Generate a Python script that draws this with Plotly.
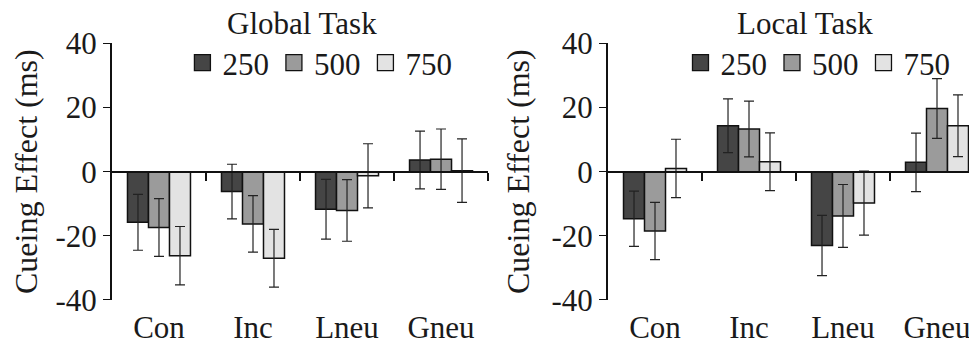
import plotly.graph_objects as go

categories = ["Con", "Inc", "Lneu", "Gneu"]
soas = ["250", "500", "750"]

global_250 = [-15.8, -6.2, -11.7, 3.6]
global_500 = [-17.4, -16.3, -12.1, 3.9]
global_750 = [-26.2, -27.0, -1.3, 0.3]
global_err_250 = [8.7, 8.5, 9.3, 9.0]
global_err_500 = [9.0, 8.8, 9.6, 9.4]
global_err_750 = [9.1, 9.0, 10.0, 9.9]

local_250 = [-14.7, 14.3, -23.0, 2.9]
local_500 = [-18.5, 13.3, -13.8, 19.7]
local_750 = [1.0, 3.1, -9.8, 14.3]
local_err_250 = [8.6, 8.4, 9.4, 9.1]
local_err_500 = [8.9, 8.7, 9.8, 9.3]
local_err_750 = [9.1, 9.0, 10.0, 9.6]

colors = ["#454545", "#9b9b9b", "#e3e3e3"]
FONT = "Liberation Serif"
TXT = "#1a1a1a"
FS = 31

fig = go.Figure()

panels = [
    ("x", "y", "legend", [global_250, global_500, global_750],
     [global_err_250, global_err_500, global_err_750]),
    ("x3", "y3", "legend2", [local_250, local_500, local_750],
     [local_err_250, local_err_500, local_err_750]),
]

for xa, ya, leg, vals, errs in panels:
    for i, s in enumerate(soas):
        fig.add_trace(go.Bar(
            x=categories, y=vals[i], name=s, xaxis=xa, yaxis=ya,
            marker=dict(color=colors[i], line=dict(color="#111111", width=1.5)),
            error_y=dict(type="data", array=errs[i], visible=True,
                         color="#222222", thickness=1.2, width=5),
            showlegend=False,
        ))
        # legend entries with larger square symbols
        fig.add_trace(go.Scatter(
            x=[None], y=[None], mode="markers", name=s, xaxis=xa, yaxis=ya,
            marker=dict(symbol="square", size=16, color=colors[i],
                        line=dict(color="#111111", width=1.3)),
            legend=leg, showlegend=True,
        ))

# dummy traces for the zero-line axes
fig.add_trace(go.Scatter(x=[None], y=[None], xaxis="x2", yaxis="y", showlegend=False))
fig.add_trace(go.Scatter(x=[None], y=[None], xaxis="x4", yaxis="y3", showlegend=False))

# page body has an 8px margin: figure is 969x335 so that it fills the 977x343 window
ydom = [0.1284, 0.8946]
ymid = (ydom[0] + ydom[1]) / 2
left_dom = [0.1073, 0.4954]
right_dom = [0.6192, 1.0]
right_range = [-0.5, 3.4255]

yaxis_common = dict(
    domain=ydom, range=[-40, 40], tickvals=[-40, -20, 0, 20, 40],
    ticktext=["-40", "-20", "0", "20", "40"],
    showline=True, linecolor="#111111", linewidth=2,
    ticks="outside", ticklen=7, tickwidth=1.2, tickcolor="#111111",
    showgrid=False, zeroline=False, automargin=False,
    tickfont=dict(family=FONT, size=FS, color=TXT),
    title=dict(text="Cueing Effect (ms)", font=dict(family=FONT, size=32, color=TXT), standoff=12),
)
xaxis_common = dict(
    type="category", showline=False, showgrid=False, zeroline=False, ticks="",
    automargin=False, ticklabelstandoff=6,
    tickfont=dict(family=FONT, size=FS, color=TXT),
)
zero_common = dict(
    range=[-0.5, 3.5], showline=True, linecolor="#111111", linewidth=2,
    ticks="outside", ticklen=8, tickwidth=1.5, tickcolor="#111111",
    tickvals=[0.5, 1.5, 2.5, 3.5], showticklabels=False, showgrid=False,
    zeroline=False, anchor="free", position=ymid, automargin=False,
)

fig.update_layout(
    width=969, height=335,
    margin=dict(l=0, r=0, t=0, b=0, autoexpand=False),
    paper_bgcolor="white", plot_bgcolor="rgba(0,0,0,0)",
    barmode="group", bargap=0.33, bargroupgap=0,
    xaxis=dict(domain=left_dom, range=[-0.5, 3.5], anchor="y", **xaxis_common),
    yaxis=dict(anchor="x", **yaxis_common),
    xaxis2=dict(domain=left_dom, overlaying="x", **zero_common),
    xaxis3=dict(domain=right_dom, range=right_range, anchor="y3", **xaxis_common),
    yaxis3=dict(anchor="x3", **yaxis_common),
    xaxis4=dict(domain=right_dom, overlaying="x3", **{**zero_common, "range": right_range}),
    legend=dict(orientation="h", x=0.180, y=0.836, xanchor="left", yanchor="middle",
                font=dict(family=FONT, size=FS, color=TXT), bgcolor="rgba(0,0,0,0)",
                itemwidth=30, tracegroupgap=0),
    legend2=dict(orientation="h", x=0.694, y=0.836, xanchor="left", yanchor="middle",
                 font=dict(family=FONT, size=FS, color=TXT), bgcolor="rgba(0,0,0,0)",
                 itemwidth=30, tracegroupgap=0),
    annotations=[
        dict(text="Global Task", x=0.3034, y=0.9552, xref="paper", yref="paper",
             xanchor="center", yanchor="middle",
             showarrow=False, font=dict(family=FONT, size=FS, color=TXT)),
        dict(text="Local Task", x=0.8225, y=0.9552, xref="paper", yref="paper",
             xanchor="center", yanchor="middle",
             showarrow=False, font=dict(family=FONT, size=FS, color=TXT)),
    ],
)

fig.write_html("out.html")
